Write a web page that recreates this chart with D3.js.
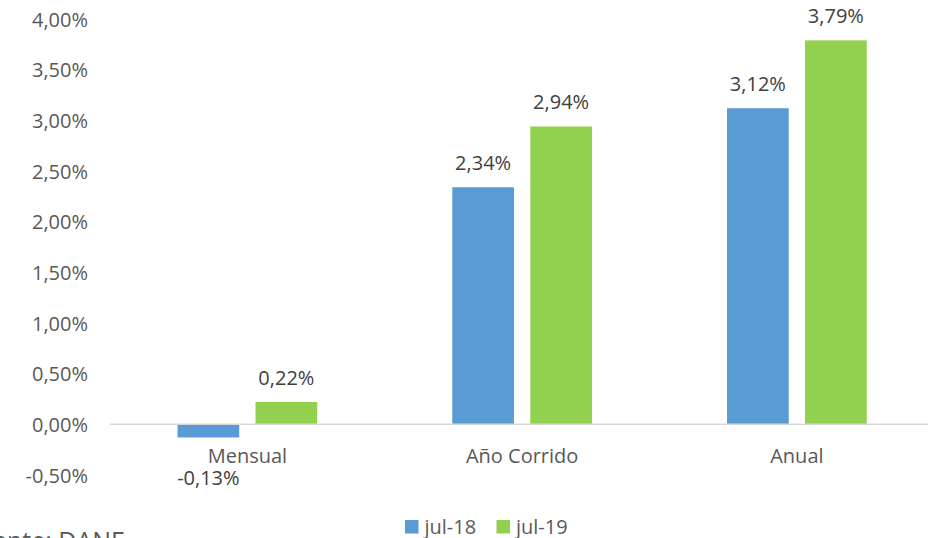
<!DOCTYPE html>
<html>
<head>
<meta charset="utf-8">
<script src="https://cdn.jsdelivr.net/npm/d3@7"></script>
<style>
  html, body { margin: 0; padding: 0; background: #fff; overflow: hidden; }
  svg { display: block; font-family: "Open Sans", sans-serif; }
</style>
</head>
<body>
<svg id="chart" width="928" height="538"></svg>
<script>
const categories = ["Mensual", "Año Corrido", "Anual"];
const seriesNames = ["jul-18", "jul-19"];
const jul18 = [-0.13, 2.34, 3.12];
const jul19 = [0.22, 2.94, 3.79];
const yTicks = [-0.5, 0, 0.5, 1.0, 1.5, 2.0, 2.5, 3.0, 3.5, 4.0];
const colors = ["#5B9BD5", "#92D050"];
const sourceText = "Fuente: DANE";

const svg = d3.select("#chart");
const fmt = v => d3.format(".2f")(v).replace(".", ",").replace("\u2212", "-") + "%";

const y = d3.scaleLinear().domain([-0.5, 4.0]).range([474.95, 19.1]);
const x0 = d3.scaleBand().domain(categories).range([110, 934.25]).paddingInner(0).paddingOuter(0);
const groupW = 139.7;
const x1 = d3.scaleBand().domain(seriesNames)
  .range([(x0.bandwidth() - groupW) / 2, (x0.bandwidth() + groupW) / 2])
  .paddingInner(0.209).paddingOuter(0);

// Y tick labels
const yAxis = d3.axisLeft(y).tickValues(yTicks).tickFormat(fmt).tickSize(0).tickPadding(0);
const yg = svg.append("g").attr("transform", "translate(88,0)").call(yAxis);
yg.select(".domain").remove();
yg.selectAll("text")
  .attr("fill", "#595959")
  .style("font-size", "20px")
  .style("font-family", "'Open Sans', sans-serif")
  .attr("dy", "0.36em");

// Data rows
const rows = categories.map((c, i) => ({ cat: c, vals: [jul18[i], jul19[i]] }));

const groups = svg.append("g").selectAll("g").data(rows).join("g")
  .attr("transform", d => `translate(${x0(d.cat)},0)`);

groups.selectAll("rect").data(d => d.vals.map((v, j) => ({ v, s: seriesNames[j], j })))
  .join("rect")
  .attr("x", d => x1(d.s))
  .attr("width", x1.bandwidth())
  .attr("y", d => Math.min(y(0), y(d.v)))
  .attr("height", d => Math.abs(y(d.v) - y(0)))
  .attr("fill", d => colors[d.j]);

groups.selectAll("text.val").data(d => d.vals.map((v, j) => ({ v, s: seriesNames[j], j })))
  .join("text")
  .attr("class", "val")
  .attr("x", d => x1(d.s) + x1.bandwidth() / 2)
  .attr("y", d => d.v >= 0 ? y(d.v) - 17 : y(d.v) + 47.5)
  .attr("text-anchor", "middle")
  .attr("fill", "#404040")
  .style("font-size", "20px")
  .text(d => fmt(d.v));

// Zero axis line
svg.append("line")
  .attr("x1", 110).attr("x2", 928)
  .attr("y1", y(0)).attr("y2", y(0))
  .attr("stroke", "#D9D9D9").attr("stroke-width", 1.5);

// Category labels
const xAxis = d3.axisBottom(x0).tickSize(0).tickPadding(0);
const xg = svg.append("g").attr("transform", "translate(0,463)").call(xAxis);
xg.select(".domain").remove();
xg.selectAll("text")
  .attr("fill", "#595959")
  .attr("dy", 0)
  .attr("y", 0)
  .style("font-size", "20px")
  .style("font-family", "'Open Sans', sans-serif");

// Legend
const legendX = [405, 496.5];
const legend = svg.append("g").selectAll("g").data(seriesNames).join("g")
  .attr("transform", (d, i) => `translate(${legendX[i]},520)`);
legend.append("rect").attr("width", 13.5).attr("height", 13.5).attr("fill", (d, i) => colors[i]);
legend.append("text").attr("x", 19.5).attr("y", 13.5)
  .attr("fill", "#595959").style("font-size", "20px").text(d => d);

// Source (clipped at left and bottom, as in the reference)
svg.append("text").attr("x", 125).attr("y", 549.5)
  .attr("text-anchor", "end")
  .attr("fill", "#595959").style("font-size", "25px").text(sourceText);
</script>
</body>
</html>
